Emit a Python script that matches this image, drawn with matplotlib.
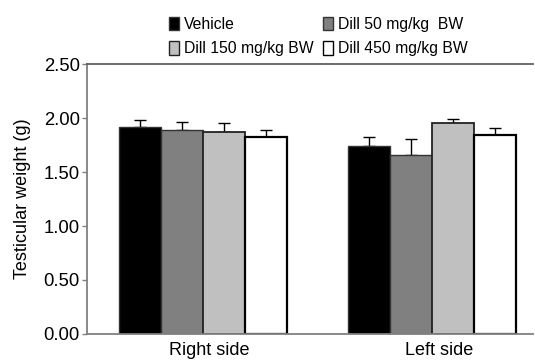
import numpy as np
import matplotlib
matplotlib.use('Agg')
import matplotlib.pyplot as plt

plt.rcParams['font.family'] = ['Liberation Sans', 'DejaVu Sans']

sides = ['Right side', 'Left side']
groups = ['Vehicle', 'Dill 50 mg/kg  BW', 'Dill 150 mg/kg BW', 'Dill 450 mg/kg BW']
# rows = groups, columns = sides
means = [[1.92, 1.74],
         [1.89, 1.66],
         [1.87, 1.95],
         [1.82, 1.84]]
errs = [[0.06, 0.08],
        [0.075, 0.145],
        [0.085, 0.045],
        [0.065, 0.065]]

colors = ['#000000', '#808080', '#c0c0c0', '#ffffff']
edges = ['#333333', '#333333', '#222222', '#000000']
lws = [1.0, 1.0, 1.3, 1.6]

fig = plt.figure(figsize=(5.35, 3.61), dpi=100)
ax = fig.add_axes([87/535, 1-334/361, 446/535, 270/361])

x = np.arange(len(sides))
w = 0.183
for i, g in enumerate(groups):
    pos = x + (i - 1.5)*w
    m = np.array(means[i])
    e = np.array(errs[i])
    ax.bar(pos, m, w, color=colors[i], edgecolor=edges[i], linewidth=lws[i], label=g, zorder=2)
    ax.errorbar(pos, m, yerr=[np.zeros_like(e), e], fmt='none', ecolor='black',
                elinewidth=1.0, capsize=4, capthick=1.0, zorder=1)

ax.set_xlim(-0.505, 1.44)
ax.set_ylim(0, 2.5)
ax.set_yticks(np.arange(0, 2.51, 0.5))
ax.set_yticklabels(['%.2f' % v for v in np.arange(0, 2.51, 0.5)])
ax.set_xticks(x + 0.03)
ax.set_xticklabels(sides)
ax.tick_params(axis='x', length=0, pad=6, labelsize=13)
ax.tick_params(axis='y', length=3.6, width=1, color='#808080', pad=1.5, labelsize=13.3)

for s in ['left', 'bottom', 'top']:
    ax.spines[s].set_color('#808080')
    ax.spines[s].set_linewidth(1.3)
ax.spines['top'].set_color('#606060')
ax.spines['right'].set_visible(False)

ax.set_ylabel('Testicular weight (g)', fontsize=13)
ax.yaxis.set_label_coords(-0.125, 0.5)

# legend above the axes, filled row by row
handles, labels = ax.get_legend_handles_labels()
order = [0, 2, 1, 3]
leg = fig.legend([handles[k] for k in order], [labels[k] for k in order],
                 loc='upper left', bbox_to_anchor=(169/535, 1-17/361), ncol=2, frameon=False,
                 fontsize=11.3, handlelength=0.65, handleheight=0.9, handletextpad=0.3,
                 columnspacing=0.6, borderpad=0, borderaxespad=0, labelspacing=0.6)
for h in leg.legend_handles:
    h.set_linewidth(1.0)

fig.savefig('out.png', dpi=100)
